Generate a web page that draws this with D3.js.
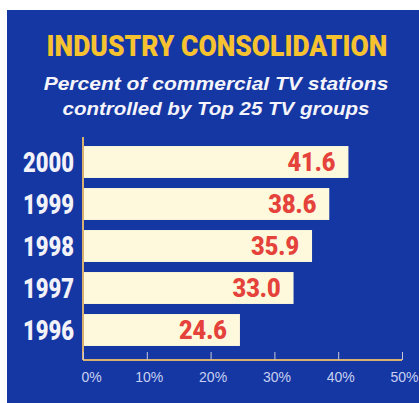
<!DOCTYPE html>
<html>
<head>
<meta charset="utf-8">
<script src="https://cdn.jsdelivr.net/npm/d3@7"></script>
<style>
html,body{margin:0;padding:0;background:#fff;}
svg{display:block;}
</style>
</head>
<body>
<div id="chart"></div>
<script>
const w = 419;
const h = 403;

// data
const years = ["2000", "1999", "1998", "1997", "1996"];
const values = [41.6, 38.6, 35.9, 33.0, 24.6];
const ticks = [0, 10, 20, 30, 40, 50];
const title = "INDUSTRY CONSOLIDATION";
const subtitle = ["Percent of commercial TV stations", "controlled by Top 25 TV groups"];

const svg = d3.select("#chart")
.append("svg")
.attr("width", w)
.attr("height", h);

// squeeze a text horizontally to a target width (fake condensed font)
function fitText(sel, width) {
    sel.each(function () {
        const t = d3.select(this);
        const len = this.getComputedTextLength();
        const k = width / len;
        const ax = +t.attr("x");
        t.attr("transform", `translate(${ax},0) scale(${k},1) translate(${-ax},0)`);
    });
}

// blue panel
svg.append("rect")
.attr("x", 7).attr("y", 10)
.attr("width", w - 7).attr("height", h - 10)
.attr("fill", "#1537a4");

// Title
svg.append("text")
.attr("x", 217).attr("y", 56)
.attr("text-anchor", "middle")
.style("font-family", "Roboto, 'Liberation Sans', sans-serif")
.style("font-weight", "900")
.style("font-size", "30px")
.attr("fill", "#f6c230")
.text(title)
.call(fitText, 341);

// Subtitle
const subW = [345, 307];
svg.selectAll(".sub")
.data(subtitle)
.enter()
.append("text")
.attr("class", "sub")
.attr("x", 216)
.attr("y", (d, i) => 90 + i * 25)
.attr("text-anchor", "middle")
.style("font-family", "'Liberation Sans', Arial, sans-serif")
.style("font-weight", "bold")
.style("font-style", "italic")
.style("font-size", "19px")
.attr("fill", "#f4f4fa")
.text(d => d)
.each(function (d, i) { d3.select(this).call(fitText, subW[i]); });

// scales
const x = d3.scaleLinear().domain([0, 50]).range([83, 402]);
const y = d3.scaleBand().domain(years).range([141, 351]).paddingInner(0.24).paddingOuter(0.12);

// bars
svg.selectAll(".bar")
.data(years)
.enter()
.append("rect")
.attr("class", "bar")
.attr("x", x(0))
.attr("y", d => y(d))
.attr("width", (d, i) => x(values[i]) - x(0))
.attr("height", y.bandwidth())
.attr("fill", "#fef9dc");

// value labels
svg.selectAll(".val")
.data(years)
.enter()
.append("text")
.attr("class", "val")
.attr("x", (d, i) => x(values[i]) - 13)
.attr("y", d => y(d) + y.bandwidth() / 2 + 9)
.attr("text-anchor", "end")
.style("font-family", "Roboto, 'Liberation Sans', sans-serif")
.style("font-weight", "900")
.style("font-size", "25px")
.attr("fill", "#e4423a")
.text((d, i) => values[i].toFixed(1))
.call(fitText, 48);

// year labels
svg.selectAll(".yr")
.data(years)
.enter()
.append("text")
.attr("class", "yr")
.attr("x", 74)
.attr("y", d => y(d) + y.bandwidth() / 2 + 10)
.attr("text-anchor", "end")
.style("font-family", "Roboto, 'Liberation Sans', sans-serif")
.style("font-weight", "900")
.style("font-size", "27px")
.attr("fill", "#f2f2f8")
.text(d => d)
.call(fitText, 51);

// axis lines
const axisY = 360;
svg.append("line")
.attr("x1", x(0)).attr("x2", x(0))
.attr("y1", 137).attr("y2", axisY)
.attr("stroke", "#d8b070").attr("stroke-width", 2);

const xAxis = d3.axisTop(x)
.tickValues(ticks)
.tickSize(8)
.tickFormat(d => d + "%");

const ax = svg.append("g")
.attr("transform", `translate(0,${axisY})`)
.call(xAxis);
ax.select(".domain").attr("stroke", "#d8b070").attr("stroke-width", 2).attr("d", `M${x(0)},0H${x(50)}`);
ax.selectAll(".tick line").attr("stroke", "#c8c8d8");
ax.selectAll(".tick text")
.attr("y", 22)
.attr("dy", 0)
.attr("dx", d => d === 0 ? 8 : 2)
.style("font-family", "'Liberation Sans', Arial, sans-serif")
.style("font-size", "14px")
.attr("fill", "#c8d0f0");
</script>
</body>
</html>
